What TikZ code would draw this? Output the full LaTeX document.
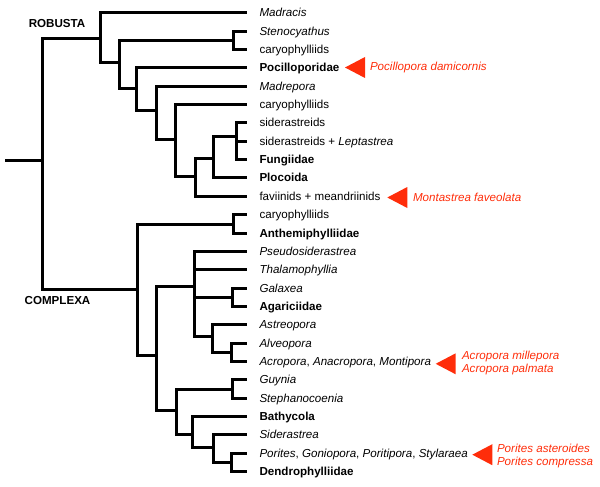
\documentclass[tikz,border=0pt]{standalone}
\usepackage{fontspec}
\setmainfont{Liberation Sans}
\usepackage{tikz}
\usetikzlibrary{calc, positioning}
\usepackage{xcolor}
\definecolor{hitred}{RGB}{255,45,10}

\begin{document}
\begin{tikzpicture}[x=1pt, y=-1pt, line width=3pt,
    taxon/.style={anchor=west, inner sep=0pt, text height=8.3pt, text depth=0pt, font=\fontsize{11.6}{13.3}\selectfont},
    group/.style={inner sep=0pt, font=\fontsize{11.6}{13.3}\selectfont\bfseries},
    hit/.style={anchor=west, inner sep=0pt, align=left, text=hitred, font=\fontsize{11.6}{13.3}\selectfont\itshape}]
    \useasboundingbox (0,0) rectangle (600,487);

    % leaves
    \foreach \i/\txt in {0/\textit{Madracis}, 1/\textit{Stenocyathus}, 2/caryophylliids,
        3/\textbf{Pocilloporidae}, 4/\textit{Madrepora}, 5/caryophylliids, 6/siderastreids,
        7/{siderastreids + \textit{Leptastrea}}, 8/\textbf{Fungiidae}, 9/\textbf{Plocoida},
        10/{faviinids + meandriinids}, 11/caryophylliids, 12/\textbf{Anthemiphylliidae},
        13/\textit{Pseudosiderastrea}, 14/\textit{Thalamophyllia}, 15/\textit{Galaxea},
        16/\textbf{Agariciidae}, 17/\textit{Astreopora}, 18/\textit{Alveopora},
        19/{\textit{Acropora}, \textit{Anacropora}, \textit{Montipora}}, 20/\textit{Guynia},
        21/\textit{Stephanocoenia}, 22/\textbf{Bathycola}, 23/\textit{Siderastrea},
        24/{\textit{Porites}, \textit{Goniopora}, \textit{Poritipora}, \textit{Stylaraea}},
        25/\textbf{Dendrophylliidae}} {
      \coordinate (e\i) at (247, {floor(12.7+18.36*\i)+0.5});
      \node[taxon, right=11pt of e\i] (t\i) {\txt};
    }

    % inner nodes
    \coordinate (base) at (5,160.5);
    \coordinate (root) at (42.5,160.5);
    \coordinate (rob) at (100.5,38.5);
    \coordinate (n1) at (119.5,62.5);   \coordinate (n1a) at (233.5,40.5);
    \coordinate (n2) at (136.5,88.5);   \coordinate (n3) at (156.5,110.5);
    \coordinate (n4) at (175.5,139.5);  \coordinate (n5) at (195.5,176.5);
    \coordinate (n6) at (213.5,158.5);  \coordinate (n7) at (236.5,136.5);
    \coordinate (cpx) at (137.5,289.5);
    \coordinate (c1) at (233.5,224.5);  \coordinate (c2) at (156.5,355.5);
    \coordinate (c3) at (194.5,286.5);  \coordinate (c4) at (176.5,410.5);
    \coordinate (c5) at (232.5,297.5);  \coordinate (c6) at (212.5,336.5);
    \coordinate (c7) at (231.5,352.5);  \coordinate (c8) at (232.5,389.5);
    \coordinate (c9) at (192.5,434.5);  \coordinate (c10) at (213.5,447.5);
    \coordinate (c11) at (231.5,462.5);

    \draw (base) -- (root);
    \foreach \a/\b in {root/rob, root/cpx,
        rob/e0, rob/n1, n1/n1a, n1a/e1, n1a/e2, n1/n2, n2/e3, n2/n3, n3/e4, n3/n4,
        n4/e5, n4/n5, n5/n6, n5/e10, n6/n7, n6/e9, n7/e6, n7/e7, n7/e8,
        cpx/c1, c1/e11, c1/e12, cpx/c2, c2/c3, c2/c4,
        c3/e13, c3/e14, c3/c5, c3/c6, c5/e15, c5/e16, c6/e17, c6/c7, c7/e18, c7/e19,
        c4/c8, c8/e20, c8/e21, c4/c9, c9/e22, c9/c10, c10/e23, c10/c11, c11/e24, c11/e25}
      \draw (\a) |- (\b);

    \node[group] (robusta) at (57,23.7) {ROBUSTA};
    \node[group] (complexa) at (57.5,300.5) {COMPLEXA};

    % sequenced species
    \coordinate (p3) at (345,67.5);
    \coordinate (p10) at (387.3,197.5);
    \coordinate (p19) at (435.7,363.8);
    \coordinate (p24) at (472.3,454.7);
    \foreach \p in {p3, p10, p19, p24}
      \fill[hitred] (\p) -- ++(20,-10.5) -- ++(0,21) -- cycle;
    \node[hit] (h3) at (368.5,67.5) {Pocillopora damicornis};
    \node[hit] (h10) at (411.5,197.5) {Montastrea faveolata};
    \node[hit] (h19) at (460.5,363.3) {Acropora millepora\\Acropora palmata};
    \node[hit] (h24) at (495.5,456) {Porites asteroides\\Porites compressa};
  \end{tikzpicture}
\end{document}
